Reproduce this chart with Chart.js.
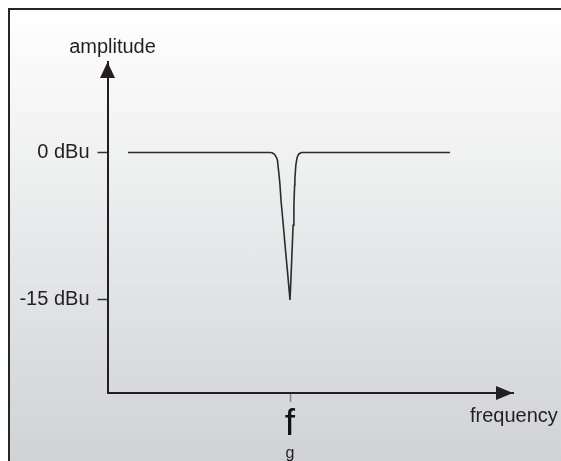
<!DOCTYPE html>
<html>
<head>
<meta charset="utf-8">
<script src="https://cdn.jsdelivr.net/npm/chart.js@4"></script>
<style>
  body { margin: 0; background: #fff; }
  #frame {
    position: absolute; left: 8px; top: 8px; width: 553px; height: 453px;
    border-top: 2px solid #262626; border-left: 2px solid #262626;
    background: linear-gradient(#ffffff, #d1d2d4);
  }
  #chart { position: absolute; left: 0; top: 0; }
</style>
</head>
<body>
<div id="frame"></div>
<canvas id="chart" width="561" height="461"></canvas>
<script>
// notch filter response, frequency in arbitrary units, level in dBu
const freq  = [20.5, 162.5, 164.5, 167, 169, 170, 170.8, 171.7, 172.5, 173.5, 175.8, 178, 180.3, 182.5,
               183.6, 184.6, 185.6, 186.4, 187.1, 187.4, 188.3, 189.6, 191.3, 194, 342.5];
const level = [0, 0, -0.03, -0.2, -0.51, -0.81, -1.62, -2.43, -3.34, -4.86, -7.4, -9.93, -12.47, -15,
               -12.47, -9.93, -7.4, -5.37, -3.34, -2.64, -1.32, -0.51, -0.15, 0, 0];
const yTicks = [0, -15];
const yTickLabels = ['0 dBu', '-15 dBu'];
const fgValue = 182.5;   // centre frequency f_g

const FONT = '"Liberation Sans", Arial, sans-serif';
const INK = '#231f20';

// arrows on the axes and the free text labels
const axisDecor = {
  id: 'axisDecor',
  afterDraw(chart) {
    const c = chart.ctx, a = chart.chartArea;
    c.save();
    c.fillStyle = INK;
    // y arrow
    c.beginPath();
    c.moveTo(a.left, a.top);
    c.lineTo(a.left - 7.5, a.top + 16);
    c.lineTo(a.left + 7.5, a.top + 16);
    c.closePath(); c.fill();
    // x arrow
    c.beginPath();
    c.moveTo(a.right, a.bottom);
    c.lineTo(a.right - 17, a.bottom - 7);
    c.lineTo(a.right - 17, a.bottom + 7);
    c.closePath(); c.fill();

    c.font = '20px ' + FONT;
    c.textBaseline = 'alphabetic';
    c.textAlign = 'center';
    c.fillText('amplitude', a.left + 5, 53);
    c.textAlign = 'left';
    c.fillText('frequency', 470, 422);
    // subscript g under f
    c.font = '16px ' + FONT;
    c.textAlign = 'center';
    c.fillText('g', chart.scales.x.getPixelForValue(fgValue), 458);
    c.restore();
  }
};

const ctx = document.getElementById('chart').getContext('2d');
const myChart = new Chart(ctx, {
  type: 'line',
  data: {
    datasets: [{
      data: freq.map((f, i) => ({ x: f, y: level[i] })),
      borderColor: '#2b2b2b',
      borderWidth: 1.6,
      pointRadius: 0,
      tension: 0,
      fill: false
    }]
  },
  options: {
    responsive: false,
    animation: false,
    devicePixelRatio: 1,
    layout: { padding: { top: 62, right: 48, left: 0, bottom: 0 } },
    plugins: { legend: { display: false }, tooltip: { enabled: false } },
    scales: {
      x: {
        type: 'linear',
        min: 0, max: 405.5,
        afterFit: (s) => { s.height = 68; },
        afterBuildTicks: (s) => { s.ticks = [{ value: fgValue }]; },
        border: { display: true, color: INK, width: 2 },
        grid: { drawOnChartArea: false, drawTicks: true, tickLength: 9, tickColor: '#888', tickWidth: 1.5 },
        ticks: {
          callback: () => 'f',
          color: '#111',
          padding: 1,
          maxRotation: 0,
          font: { family: FONT, size: 37 }
        }
      },
      y: {
        min: -24.46, max: 9.2,
        afterFit: (s) => { s.width = 107.5; },
        afterBuildTicks: (s) => { s.ticks = yTicks.map(v => ({ value: v })); },
        border: { display: true, color: INK, width: 2 },
        grid: { drawOnChartArea: false, drawTicks: true, tickLength: 10, tickColor: '#333', tickWidth: 1.5 },
        ticks: {
          callback: (v) => yTickLabels[yTicks.indexOf(v)],
          color: INK,
          padding: 8,
          font: { family: FONT, size: 20 }
        }
      }
    }
  },
  plugins: [axisDecor]
});
</script>
</body>
</html>
